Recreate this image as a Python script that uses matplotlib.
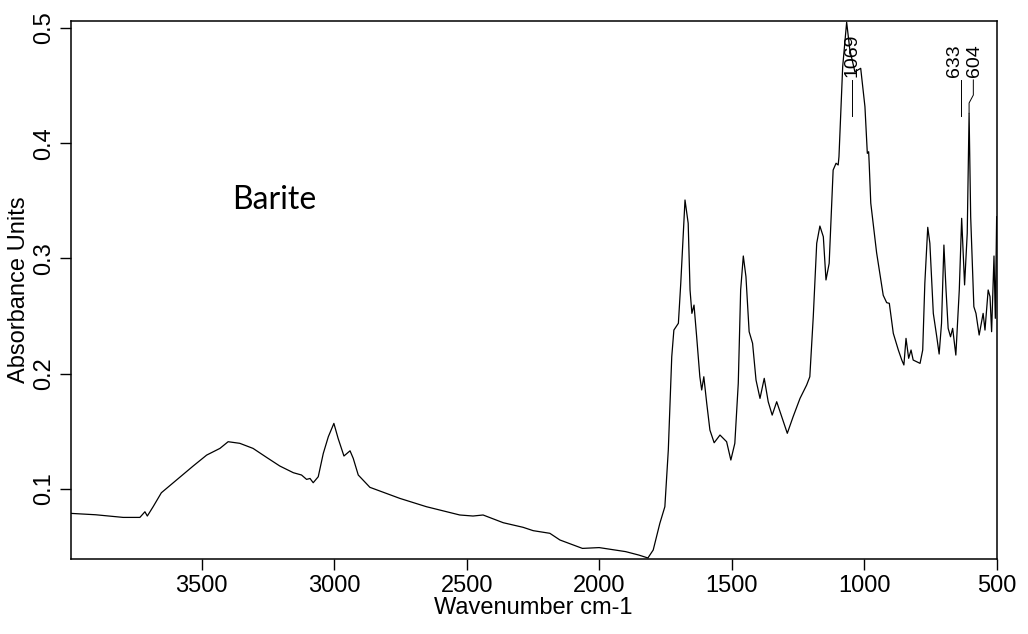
import numpy as np
import matplotlib.pyplot as plt

plt.rcParams['font.family'] = ['Liberation Sans', 'DejaVu Sans']

# spectrum (wavenumber, absorbance)
wavenumber = [3994, 3900, 3796, 3733, 3714, 3705, 3683, 3652, 3595, 3532,
              3481, 3431, 3400, 3356, 3306, 3255, 3205, 3154, 3123, 3104,
              3091, 3079, 3060, 3041, 3022, 3001, 2985, 2963, 2940, 2928,
              2909, 2865, 2752, 2652, 2526, 2476, 2438, 2362, 2287, 2249,
              2186, 2148, 2063, 2000, 1900, 1850, 1816, 1796, 1771, 1752,
              1739, 1726, 1718, 1701, 1692, 1676, 1664, 1657, 1650, 1642,
              1632, 1620, 1613, 1605, 1594, 1582, 1566, 1544, 1519, 1503,
              1488, 1475, 1466, 1456, 1446, 1434, 1421, 1408, 1393, 1377,
              1362, 1347, 1330, 1311, 1290, 1268, 1242, 1217, 1205, 1192,
              1179, 1167, 1154, 1144, 1132, 1117, 1106, 1098, 1095, 1081,
              1066, 1054, 1035, 1013, 997, 988, 983, 981, 975, 953,
              928, 915, 905, 890, 871, 858, 850, 842, 832, 823,
              815, 789, 779, 771, 760, 752, 739, 726, 717, 708,
              699, 691, 683, 674, 666, 654, 641, 632, 621, 611,
              604, 598, 586, 578, 566, 551, 544, 532, 525, 519,
              510, 505, 500]
absorbance = [0.0787, 0.0775, 0.0752, 0.0752, 0.0801, 0.0764, 0.0845, 0.0966, 0.1076, 0.1198,
              0.1293, 0.1351, 0.1409, 0.1395, 0.1351, 0.1273, 0.1198, 0.1140, 0.1120, 0.1082,
              0.1090, 0.1053, 0.1105, 0.1307, 0.1452, 0.1568, 0.1438, 0.1285, 0.1330, 0.1265,
              0.1120, 0.1013, 0.0917, 0.0845, 0.0773, 0.0764, 0.0773, 0.0706, 0.0666, 0.0637,
              0.0614, 0.0556, 0.0483, 0.0490, 0.0455, 0.0425, 0.0400, 0.0469, 0.0700, 0.0845,
              0.1337, 0.2147, 0.2378, 0.2437, 0.2784, 0.3507, 0.3305, 0.2726, 0.2523, 0.2595,
              0.2320, 0.1973, 0.1858, 0.1973, 0.1742, 0.1510, 0.1400, 0.1467, 0.1409, 0.1250,
              0.1395, 0.1916, 0.2726, 0.3021, 0.2841, 0.2364, 0.2263, 0.1944, 0.1785, 0.1959,
              0.1756, 0.1640, 0.1756, 0.1626, 0.1482, 0.1626, 0.1785, 0.1901, 0.1973, 0.2494,
              0.3131, 0.3281, 0.3188, 0.2813, 0.2957, 0.3767, 0.3826, 0.3811, 0.3883, 0.4664,
              0.5050, 0.4810, 0.4620, 0.4650, 0.4317, 0.3912, 0.3926, 0.3826, 0.3480, 0.3050,
              0.2680, 0.2616, 0.2610, 0.2350, 0.2205, 0.2118, 0.2075, 0.2306, 0.2133, 0.2205,
              0.2118, 0.2089, 0.2205, 0.2784, 0.3270, 0.3131, 0.2523, 0.2320, 0.2170, 0.2437,
              0.3116, 0.2726, 0.2393, 0.2320, 0.2393, 0.2161, 0.2726, 0.3348, 0.2770, 0.3218,
              0.4259, 0.3362, 0.2581, 0.2523, 0.2335, 0.2523, 0.2378, 0.2726, 0.2668, 0.2364,
              0.3021, 0.2480, 0.3362]

# peak labels and where their text sits (wavenumber)
peak_labels = ['1069', '633', '604']
label_x = [1045, 660, 582]

fig = plt.figure(figsize=(10.28, 6.34), dpi=100)
ax = fig.add_axes([0.0688, 0.1183, 0.9007, 0.849])

ax.plot(wavenumber, absorbance, color='black', linewidth=0.9)

ax.set_xlim(3994, 500)
ax.set_ylim(0.0391, 0.5063)
ax.set_xticks([3500, 3000, 2500, 2000, 1500, 1000, 500])
ax.set_yticks([0.1, 0.2, 0.3, 0.4, 0.5])
ax.tick_params(axis='both', direction='out', length=8, width=1, labelsize=17)
ax.tick_params(axis='y', labelrotation=90)
for lab in ax.get_yticklabels():
    lab.set_va('center')
for s in ax.spines.values():
    s.set_linewidth(1.1)

ax.set_xlabel('Wavenumber cm-1', fontsize=17, labelpad=0)
ax.set_ylabel('Absorbance Units', fontsize=17, labelpad=2)

# leader lines under the peak labels
ax.plot([1045, 1045], [0.4549, 0.4236], color='black', linewidth=0.7)
ax.plot([633, 633], [0.4549, 0.4236], color='black', linewidth=0.7)
ax.plot([588, 588, 604, 604], [0.4549, 0.4418, 0.4349, 0.4262], color='black', linewidth=0.7)
for txt, xx in zip(peak_labels, label_x):
    ax.text(xx, 0.4575, txt, rotation=90, ha='center', va='bottom', fontsize=14)

ax.text(3386, 0.343, 'Barite', fontsize=23, family=['Lato', 'DejaVu Sans'],
        ha='left', va='baseline')

fig.savefig('out.png', dpi=100)
